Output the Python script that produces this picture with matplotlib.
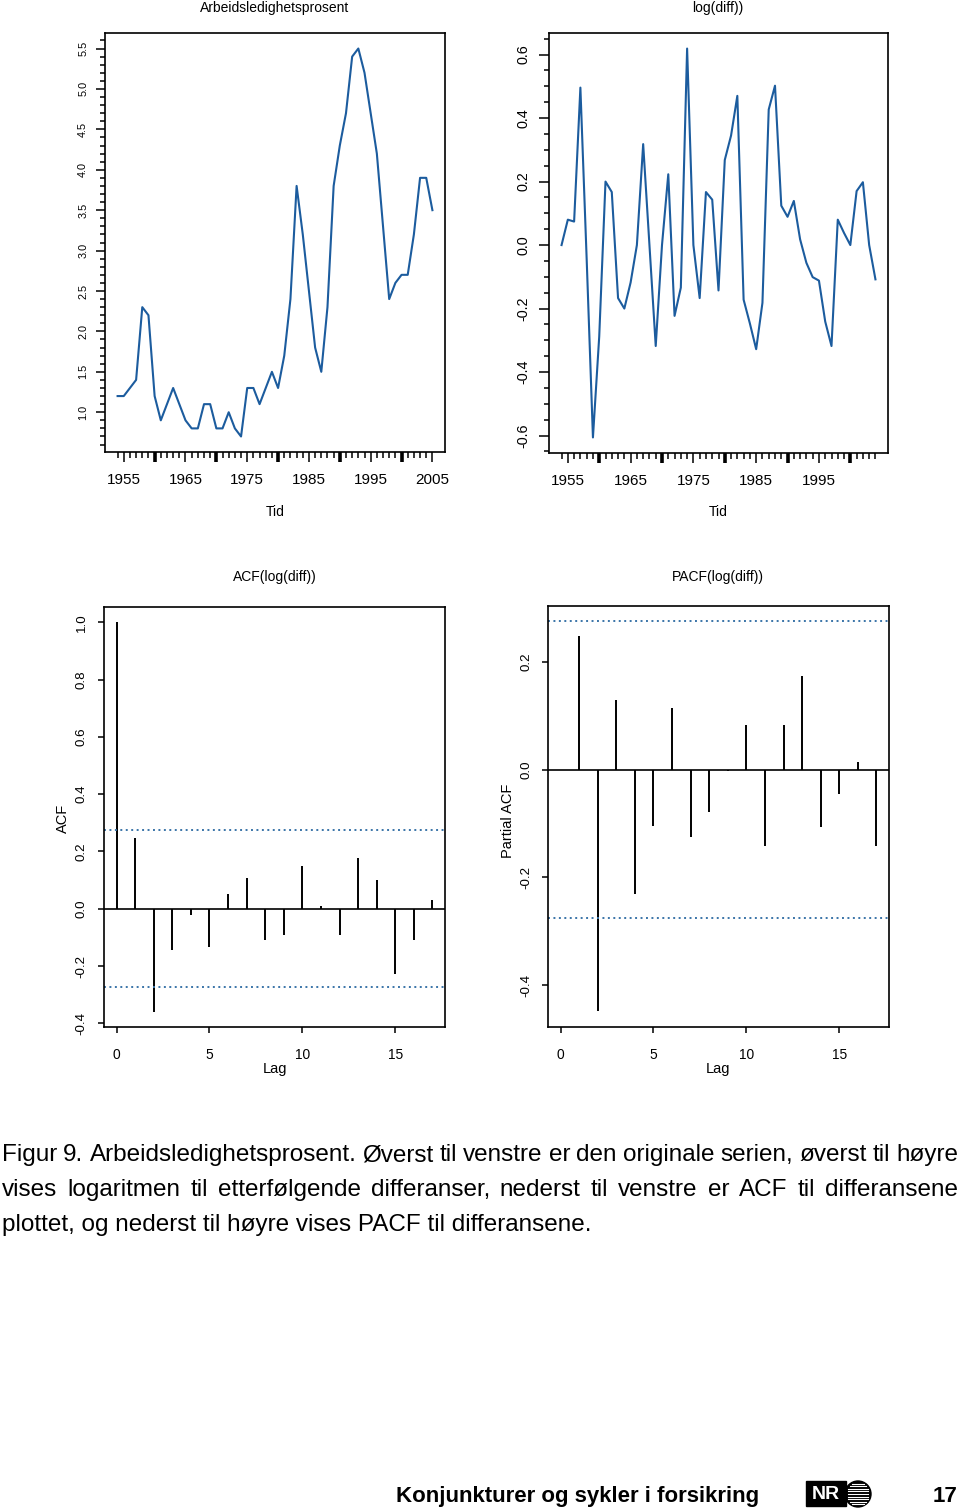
import numpy as np
import matplotlib
matplotlib.use("Agg")
import matplotlib.pyplot as plt
from matplotlib.patches import Rectangle, Circle

plt.rcParams["font.family"] = ["Liberation Sans", "DejaVu Sans"]
plt.rcParams["axes.unicode_minus"] = False

# unemployment rate (%), yearly
years = np.arange(1954, 2006)
unemp = [1.2, 1.2, 1.3, 1.4, 2.3, 2.2, 1.2, 0.9, 1.1, 1.3, 1.1, 0.9, 0.8, 0.8,
         1.1, 1.1, 0.8, 0.8, 1.0, 0.8, 0.7, 1.3, 1.3, 1.1, 1.3, 1.5, 1.3, 1.7,
         2.4, 3.8, 3.2, 2.5, 1.8, 1.5, 2.3, 3.8, 4.3, 4.7, 5.4, 5.5, 5.2, 4.7,
         4.2, 3.3, 2.4, 2.6, 2.7, 2.7, 3.2, 3.9, 3.9, 3.5]

# log of successive ratios
years_diff = np.arange(1954, 2005)
logdiff = [0.0, 0.08, 0.074, 0.496, -0.044, -0.606, -0.288, 0.2, 0.167, -0.167,
           -0.2, -0.118, 0.0, 0.318, 0.0, -0.318, 0.0, 0.223, -0.223, -0.134,
           0.619, 0.0, -0.167, 0.167, 0.143, -0.143, 0.268, 0.345, 0.47, -0.172,
           -0.247, -0.328, -0.182, 0.427, 0.502, 0.124, 0.089, 0.139, 0.018,
           -0.056, -0.101, -0.112, -0.241, -0.318, 0.08, 0.038, 0.0, 0.17, 0.198,
           0.0, -0.108]

acf_lags = np.arange(0, 18)
acf_vals = [1.0, 0.247, -0.359, -0.143, -0.021, -0.132, 0.052, 0.108, -0.108,
            -0.090, 0.150, 0.010, -0.092, 0.176, 0.101, -0.228, -0.108, 0.031]

pacf_lags = np.arange(1, 18)
pacf_vals = [0.247, -0.448, 0.128, -0.230, -0.105, 0.114, -0.125, -0.078, -0.003,
             0.083, -0.141, 0.082, 0.173, -0.107, -0.045, 0.014, -0.142]

ci = 0.2745

year_labels = [1955, 1965, 1975, 1985, 1995, 2005]
decades = [1960, 1970, 1980, 1990, 2000]

caption = [
    "Figur 9. Arbeidsledighetsprosent. Øverst til venstre er den originale serien, øverst til høyre",
    "vises logaritmen til etterfølgende differanser, nederst til venstre er ACF til differansene",
    "plottet, og nederst til høyre vises PACF til differansene.",
]

BLUE = "#1c5c9e"
CI_BLUE = "#3a74a8"
W, H = 960, 1509


def box(l, t, r, b):
    return [l / W, 1 - b / H, (r - l) / W, (b - t) / H]


def style(ax, ysize, ypad, xsize, xpad, ymaj_len, xmaj_len):
    for s in ax.spines.values():
        s.set_linewidth(1.2)
    ax.tick_params(axis="y", which="major", length=ymaj_len, width=1.1,
                   labelsize=ysize, pad=ypad, labelrotation=90)
    ax.tick_params(axis="y", which="minor", length=3.6, width=1.1)
    ax.tick_params(axis="x", which="major", length=xmaj_len, width=1.1,
                   labelsize=xsize, pad=xpad)
    ax.tick_params(axis="x", which="minor", length=4.3, width=1.1)


def year_axis(ax, tick_years, lab_years):
    ax.set_xticks(lab_years)
    ax.set_xticks(tick_years, minor=True)
    sec = ax.secondary_xaxis("bottom")
    sec.set_xticks(decades)
    sec.tick_params(length=7.2, width=2.6, labelbottom=False)
    sec.spines["bottom"].set_visible(False)


fig = plt.figure(figsize=(9.6, 15.09), dpi=100)

# top left: original series
ax1 = fig.add_axes(box(105, 33, 445, 452))
ax1.plot(years, unemp, color=BLUE, lw=1.5)
ax1.set_xlim(1951.96, 2007.04)
ax1.set_ylim(0.508, 5.692)
ax1.set_yticks(np.arange(1.0, 5.51, 0.5))
ax1.set_yticks(np.arange(0.6, 5.61, 0.1), minor=True)
year_axis(ax1, years, year_labels)
style(ax1, 7.8, 5.6, 11, 8, 6.5, 7.2)

# top right: log differences
ax2 = fig.add_axes(box(549, 33, 888, 453))
ax2.plot(years_diff, logdiff, color=BLUE, lw=1.5)
ax2.set_xlim(1952, 2006)
ax2.set_ylim(-0.655, 0.668)
ax2.set_yticks(np.arange(-0.6, 0.61, 0.2))
ax2.set_yticks(np.arange(-0.65, 0.66, 0.05), minor=True)
year_axis(ax2, years_diff, year_labels[:-1])
style(ax2, 10.4, 6.3, 11, 8, 7.2, 7.2)

# bottom left: ACF
ax3 = fig.add_axes(box(104, 607, 445, 1027))
ax3.vlines(acf_lags, 0, acf_vals, color="black", lw=1.4)
ax3.axhline(0, color="black", lw=1.2)
for c in (ci, -ci):
    ax3.axhline(c, color=CI_BLUE, lw=1.4, ls=(0, (1, 1.8)))
ax3.set_xlim(-0.68, 17.68)
ax3.set_ylim(-0.413, 1.054)
ax3.set_xticks([0, 5, 10, 15])
ax3.set_yticks(np.arange(-0.4, 1.01, 0.2))
style(ax3, 9.6, 7.6, 9.9, 11, 4.3, 4.3)

# bottom right: PACF
ax4 = fig.add_axes(box(548, 606, 889, 1027))
ax4.vlines(pacf_lags, 0, pacf_vals, color="black", lw=1.4)
ax4.axhline(0, color="black", lw=1.2)
for c in (ci, -ci):
    ax4.axhline(c, color=CI_BLUE, lw=1.4, ls=(0, (1, 1.8)))
ax4.set_xlim(-0.68, 17.68)
ax4.set_ylim(-0.477, 0.303)
ax4.set_xticks([0, 5, 10, 15])
ax4.set_yticks([-0.4, -0.2, 0.0, 0.2])
style(ax4, 9.6, 6.9, 9.9, 11, 4.3, 4.3)

for ax in (ax1, ax2, ax3, ax4):
    ax.set_yticklabels([f"{v:.1f}" for v in ax.get_yticks()], rotation=90, va="center")


def ftext(x, y, s, **kw):
    return fig.text(x / W, 1 - y / H, s, **kw)


ftext(275, 8, "Arbeidsledighetsprosent", ha="center", va="center", fontsize=10)
ftext(718, 8, "log(diff))", ha="center", va="center", fontsize=10)
ftext(275, 512, "Tid", ha="center", va="center", fontsize=10)
ftext(718, 512, "Tid", ha="center", va="center", fontsize=10)
ftext(275, 577, "ACF(log(diff))", ha="center", va="center", fontsize=10)
ftext(718, 577, "PACF(log(diff))", ha="center", va="center", fontsize=10)
ftext(275, 1069, "Lag", ha="center", va="center", fontsize=10.5)
ftext(718, 1069, "Lag", ha="center", va="center", fontsize=10.5)
ftext(63, 818, "ACF", ha="center", va="center", rotation=90, fontsize=10.5)
ftext(508, 821, "Partial ACF", ha="center", va="center", rotation=90, fontsize=10.5)

# caption, justified
renderer = fig.canvas.get_renderer()
cap_size = 17.5
x0, x1 = 2, 958
for i, line in enumerate(caption):
    yb = 1161 + 35 * i
    if i == len(caption) - 1:
        ftext(x0, yb, line, ha="left", va="baseline", fontsize=cap_size)
        continue
    words = line.split(" ")
    texts = [ftext(0, yb, w, ha="left", va="baseline", fontsize=cap_size) for w in words]
    widths = [t.get_window_extent(renderer).width for t in texts]
    gap = (x1 - x0 - sum(widths)) / (len(words) - 1)
    x = x0
    for t, w in zip(texts, widths):
        t.set_x(x / W)
        x += w + gap

# footer
ftext(396, 1502, "Konjunkturer og sykler i forsikring", ha="left", va="baseline",
      fontsize=16, fontweight="bold")
ftext(957, 1502, "17", ha="right", va="baseline", fontsize=16, fontweight="bold")

logo = fig.add_axes(box(804, 1479, 874, 1509))
logo.set_xlim(804, 874)
logo.set_ylim(1509, 1479)
logo.set_aspect("equal")
logo.axis("off")
logo.add_patch(Rectangle((806, 1481), 40, 25, color="black"))
logo.text(826, 1494, "NR", color="white", ha="center", va="center",
          fontsize=14, fontweight="bold")
logo.add_patch(Circle((858, 1494), 13, color="black"))
for k in range(-4, 5):
    yy = 1494 + k * 2.6
    half = np.sqrt(max(13 ** 2 - (k * 2.6) ** 2, 0)) * 0.8
    logo.plot([858 - half, 858 + half], [yy, yy], color="white", lw=0.8)

fig.savefig("out.png", dpi=100)
